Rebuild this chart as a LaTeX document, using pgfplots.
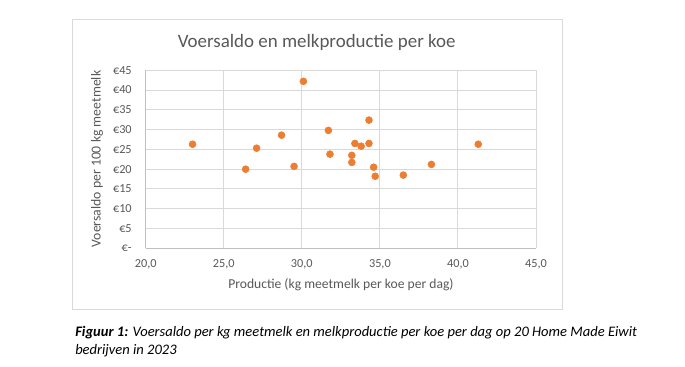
\documentclass[border=0pt]{standalone}
\usepackage{pgfplots}
\pgfplotsset{compat=1.18}
\usepackage{fontspec}
\setmainfont{Carlito}
\definecolor{txt}{HTML}{595959}
\definecolor{gridc}{HTML}{D9D9D9}
\definecolor{axc}{HTML}{BFBFBF}
\definecolor{dot}{HTML}{ED7D31}
\begin{document}
\begin{tikzpicture}
\path[fill=white] (0pt,0pt) rectangle (513.75pt,-275.25pt);
\draw[gridc, line width=0.75pt] (54pt,-15pt) rectangle (421.5pt,-231.75pt);
\begin{axis}[
  at={(109.3pt,-186.2pt)}, anchor=south west,
  scale only axis, width=292.7pt, height=133.5pt,
  xmin=20, xmax=45, ymin=0, ymax=45,
  xtick={20,25,30,35,40,45},
  xticklabels={{20,0},{25,0},{30,0},{35,0},{40,0},{45,0}},
  ytick={0,5,10,15,20,25,30,35,40,45},
  yticklabels={€-,€5,€10,€15,€20,€25,€30,€35,€40,€45},
  grid=major,
  major grid style={gridc, line width=0.75pt},
  axis x line*=bottom, axis y line*=left,
  axis line style={axc, line width=0.75pt, -},
  major tick length=0pt,
  tick label style={font=\fontsize{9.2}{11}\selectfont, text=txt},
  yticklabel style={xshift=-7pt},
  xticklabel style={yshift=-5pt},
  clip=false,
]
\addplot[only marks, mark=*, mark size=2.6pt, mark options={fill=dot, draw=dot}] coordinates {
(23.0,26.3) (26.4,20.0) (27.1,25.3) (28.7,28.6) (29.5,20.7) (30.1,42.2)
(31.7,29.8) (31.8,23.8) (33.2,23.5) (33.2,21.7) (33.4,26.5) (33.8,25.8)
(34.3,32.4) (34.3,26.5) (34.6,20.5) (34.7,18.2) (36.5,18.5) (38.3,21.2)
(41.3,26.3)
};
\end{axis}
\node[text=txt, font=\fontsize{14.2}{16}\selectfont] at (237.5pt,-31.5pt) {Voersaldo en melkproductie per koe};
\node[text=txt, font=\fontsize{10.3}{12}\selectfont, rotate=90] at (72.75pt,-119.3pt) {Voersaldo per 100 kg meetmelk};
\node[text=txt, font=\fontsize{10.2}{12}\selectfont] at (255.7pt,-213.75pt) {Productie (kg meetmelk per koe per dag)};
\node[anchor=base west, inner sep=0pt, font=\fontsize{10.9}{13}\selectfont\itshape] at (56.25pt,-252pt) {\textbf{Figuur 1:} Voersaldo per kg meetmelk en melkproductie per koe per dag op 20 Home Made Eiwit};
\node[anchor=base west, inner sep=0pt, font=\fontsize{10.9}{13}\selectfont\itshape] at (56.25pt,-265.5pt) {bedrijven in 2023};
\end{tikzpicture}
\end{document}
